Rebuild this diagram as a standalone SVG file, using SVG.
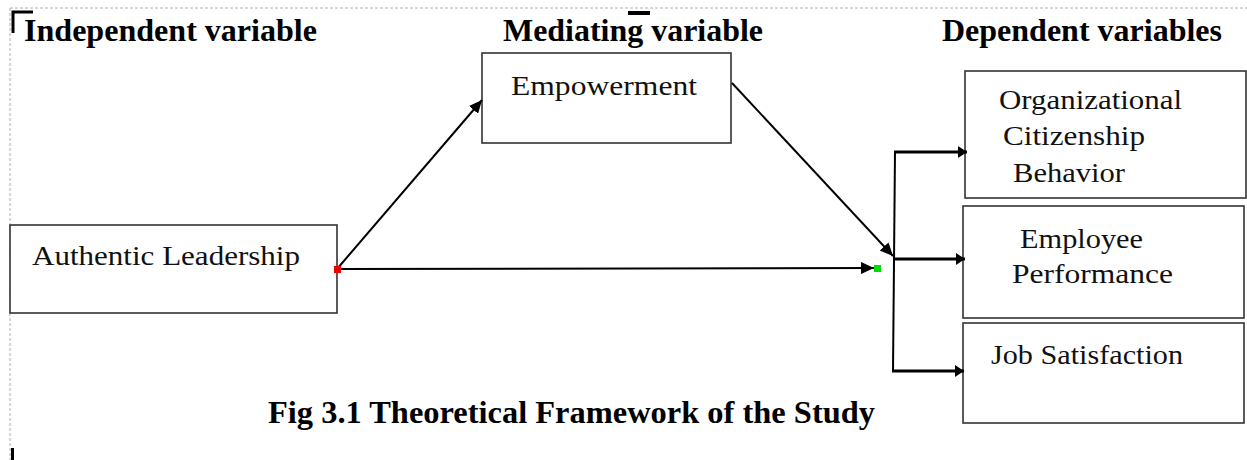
<svg xmlns="http://www.w3.org/2000/svg" width="1247" height="460" viewBox="0 0 1247 460">
<style>
.head{font-family:"Liberation Serif","Times New Roman",serif;font-weight:bold;font-size:32px;fill:#000}
.body{font-family:"Liberation Serif","Times New Roman",serif;font-size:28px;fill:#111}
.box{fill:#fff;stroke:#333;stroke-width:1.6}
.con{stroke:#000;stroke-width:2;fill:none}
.thick{stroke:#000;stroke-width:3;fill:none}
.mark{fill:#000}
</style>
<defs>
<marker id="ah" markerUnits="userSpaceOnUse" markerWidth="13" markerHeight="12" refX="13" refY="6" orient="auto">
<path d="M0,0 L13,6 L0,12 z" fill="#000"/>
</marker>
<marker id="ahb" markerUnits="userSpaceOnUse" markerWidth="9" markerHeight="12" refX="9" refY="6" orient="auto">
<path d="M0,0 L9,6 L0,12 z" fill="#000"/>
</marker>
</defs>
<rect width="1247" height="460" fill="#fff"/>
<g id="frame">
<line x1="10" y1="8" x2="1247" y2="8" stroke="#b0b0b0" stroke-width="1" stroke-dasharray="3,2"/>
<line x1="10" y1="8" x2="10" y2="460" stroke="#b0b0b0" stroke-width="1" stroke-dasharray="3,2"/>
<path d="M13,33 V12 H33" stroke="#000" stroke-width="3" fill="none"/>
<rect class="mark" x="628" y="11" width="22" height="4"/>
<rect class="mark" x="11" y="229" width="4" height="20"/>
<rect class="mark" x="11" y="448" width="3" height="12"/>
</g>
<g id="headings">
<text class="head" x="24" y="41" textLength="293" lengthAdjust="spacingAndGlyphs">Independent variable</text>
<text class="head" x="503" y="41" textLength="260" lengthAdjust="spacingAndGlyphs">Mediating variable</text>
<text class="head" x="942" y="41" textLength="280" lengthAdjust="spacingAndGlyphs">Dependent variables</text>
</g>
<g id="empowerment">
<rect class="box" x="482" y="53" width="249" height="90"/>
<text class="body" x="511" y="95" textLength="186" lengthAdjust="spacingAndGlyphs">Empowerment</text>
</g>
<g id="authentic-leadership">
<rect class="box" x="10" y="225" width="327" height="88"/>
<text class="body" x="32" y="265" textLength="268" lengthAdjust="spacingAndGlyphs">Authentic Leadership</text>
</g>
<g id="ocb">
<rect class="box" x="965" y="71" width="281" height="127"/>
<text class="body" x="999" y="109" textLength="183" lengthAdjust="spacingAndGlyphs">Organizational</text>
<text class="body" x="1003" y="145" textLength="142" lengthAdjust="spacingAndGlyphs">Citizenship</text>
<text class="body" x="1013" y="182" textLength="112" lengthAdjust="spacingAndGlyphs">Behavior</text>
</g>
<g id="employee-performance">
<rect class="box" x="963" y="206" width="281" height="112"/>
<text class="body" x="1020" y="248" textLength="123" lengthAdjust="spacingAndGlyphs">Employee</text>
<text class="body" x="1012" y="283" textLength="161" lengthAdjust="spacingAndGlyphs">Performance</text>
</g>
<g id="job-satisfaction">
<rect class="box" x="963" y="323" width="281" height="100"/>
<text class="body" x="991" y="364" textLength="192" lengthAdjust="spacingAndGlyphs">Job Satisfaction</text>
</g>
<g id="connectors">
<line class="con" x1="337" y1="269" x2="482" y2="100" marker-end="url(#ah)"/>
<line class="con" x1="337" y1="269" x2="874" y2="268" marker-end="url(#ah)"/>
<line class="con" x1="732" y1="83" x2="893" y2="256" marker-end="url(#ah)"/>
<line class="con" x1="895" y1="151" x2="893" y2="372"/>
<line class="thick" x1="894" y1="152" x2="967" y2="152" marker-end="url(#ahb)"/>
<line class="thick" x1="893" y1="259" x2="965" y2="259" marker-end="url(#ahb)"/>
<line class="thick" x1="892" y1="371" x2="964" y2="371" marker-end="url(#ahb)"/>
<rect x="334" y="266" width="7" height="7" fill="#ee0000"/>
<rect x="874" y="265" width="7" height="7" fill="#00dd00"/>
</g>
<g id="caption">
<text class="head" x="268" y="423" textLength="607" lengthAdjust="spacingAndGlyphs">Fig 3.1 Theoretical Framework of the Study</text>
</g>
</svg>
